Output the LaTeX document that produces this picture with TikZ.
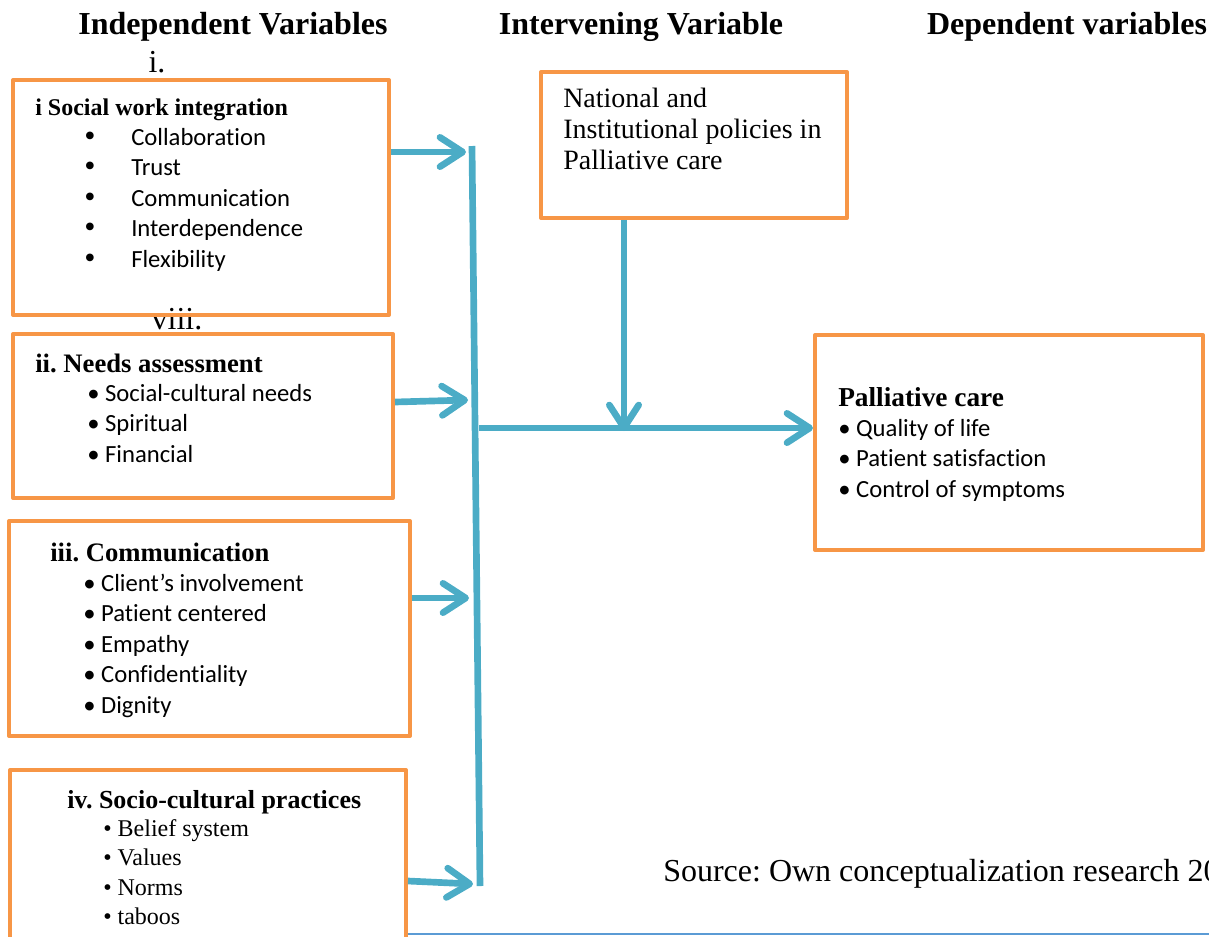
\documentclass[tikz,border=0pt]{standalone}
\usepackage{fontspec}
\setmainfont{Liberation Serif}
\newfontfamily\calibri[Ligatures=NoCommon]{Carlito}
\usetikzlibrary{arrows.meta}
\definecolor{boxorange}{HTML}{F79646}
\definecolor{flowblue}{HTML}{4BACC6}
\definecolor{rulecol}{HTML}{5B9BD5}
\frenchspacing
\begin{document}
\begin{tikzpicture}[x=0.75pt,y=-0.75pt,line join=round,
  box/.style={draw=boxorange,line width=3pt,inner sep=0pt},
  head/.style={font=\fontsize{24}{27}\selectfont\bfseries,anchor=base,inner sep=0pt},
  boxhead/.style={font=\fontsize{20}{23}\selectfont\bfseries,anchor=base west,inner sep=0pt},
  item/.style={font=\calibri\fontsize{18.5}{21}\selectfont,anchor=base west,inner sep=0pt},
  sitem/.style={font=\fontsize{18}{21}\selectfont,anchor=base west,inner sep=0pt},
  flow/.style={draw=flowblue,line width=5pt,line cap=butt},
  tip/.style={-{Straight Barb[length=17pt,width=22pt,line cap=round,line join=round]}},
]
\useasboundingbox (0,0) rectangle (1209,936);
%%
% column headings
\node[head] (indep) at (233,34) {Independent Variables};
\node[head] (interv) at (641,34) {Intervening Variable};
\node[head] (dep) at (1067,34) {Dependent variables};
\node[head,font=\fontsize{24}{27}\selectfont] (numi) at (157,72) {i.};
\node[head,font=\fontsize{24}{27}\selectfont] (numviii) at (177,329) {viii.};
%
% independent variables
\node[box,minimum width=282pt,minimum height=176.25pt] (social) at (201,197.5) {};
\node[boxhead,font=\fontsize{18}{20}\selectfont\bfseries] (socialhd) at (35,115) {i Social work integration};
\foreach \txt [count=\i] in {Collaboration,Trust,Communication,Interdependence,Flexibility} {
  \node[item,font=\fontsize{24}{21}\selectfont] (socialb\i) at (84,146+30.5*\i-30.5) {•};
  \node[item] (social\i) at (131,145+30.5*\i-30.5) {\txt};
}
\node[box,minimum width=285pt,minimum height=123pt] (needs) at (203,416) {};
\node[boxhead] (needshd) at (35,372) {ii. Needs assessment};
\foreach \txt [count=\i] in {Social-cultural needs,Spiritual,Financial} {
  \node[item] (needs\i) at (87,401+30.5*\i-30.5) {• \txt};
}
\node[box,minimum width=300.75pt,minimum height=161.25pt] (comm) at (209.5,628.5) {};
\node[boxhead] (commhd) at (50,561) {iii. Communication};
\foreach \txt [count=\i] in {Client’s involvement,Patient centered,Empathy,Confidentiality,Dignity} {
  \node[item] (comm\i) at (83,591+30.5*\i-30.5) {• \txt};
}
\node[box,minimum width=297pt,minimum height=135pt] (socio) at (208,860) {};
\node[boxhead,font=\fontsize{19.5}{22}\selectfont\bfseries] (sociohd) at (67,808) {iv. Socio-cultural practices};
\foreach \txt [count=\i] in {Belief system,Values,Norms,taboos} {
  \node[sitem] (socio\i) at (103,836+29.5*\i-29.5) {• \txt};
}
%
% intervening variable
\node[box,minimum width=229.5pt,minimum height=109.5pt] (policy) at (694,145) {};
\node[font=\fontsize{21}{23}\selectfont,align=left,anchor=north west,inner sep=0pt] (policytxt) at (563,88)
  {National and\\Institutional policies in\\Palliative care};
%
% dependent variable
\node[box,minimum width=291pt,minimum height=161.25pt] (care) at (1009,442.5) {};
\node[boxhead,font=\fontsize{20.5}{23}\selectfont\bfseries] (carehd) at (838,406) {Palliative care};
\foreach \txt [count=\i] in {Quality of life,Patient satisfaction,Control of symptoms} {
  \node[item] (care\i) at (838,436+30.5*\i-30.5) {• \txt};
}
%
\node[font=\fontsize{24}{27}\selectfont,anchor=base west,inner sep=0pt] (source) at (663,881)
  {Source: Own conceptualization research 20};
%
% connectors
\coordinate (busTop) at (472,146);
\coordinate (busBot) at (480,886);
\coordinate (busMid) at (479,428);
\coordinate (in1) at (466,152);
\coordinate (in2) at (468,400);
\coordinate (in3) at (469,598);
\coordinate (in4) at (473,884);
\coordinate (join) at (624,431);
\draw[flow] (busTop) -- (busBot);
\draw[flow,tip] (social.east |- in1) -- (in1);
\draw[flow,tip] (needs.east |- 0,402) -- (in2);
\draw[flow,tip] (comm.east |- in3) -- (in3);
\draw[flow,tip] (socio.east |- 0,881) -- (in4);
\draw[flow,tip] (policy.south -| join) -- (join);
\draw[flow,tip] (busMid) -- (care.west |- busMid);
\draw[draw=rulecol,line width=1.5pt] (socio.east |- 0,934) -- (1209,934);
%
\end{tikzpicture}
\end{document}
